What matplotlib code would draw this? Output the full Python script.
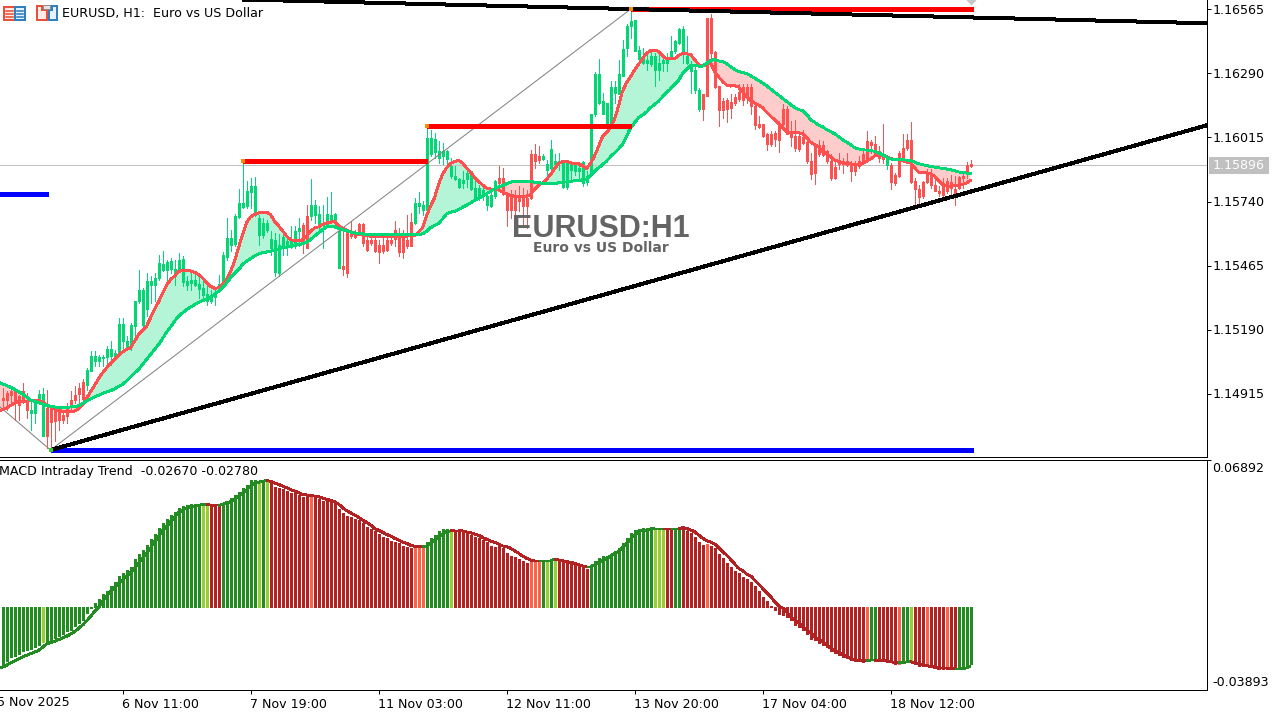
import numpy as np
import matplotlib
matplotlib.use("Agg")
import matplotlib.pyplot as plt
from matplotlib.patches import Rectangle, Polygon

# ---------- data (bar -1 is the one clipped at the left edge) ----------
body_high = [114903,
114896,114917,114925,114925,114903,114925,114889,114846,114882,114915,
114915,114853,114853,114853,114839,114824,114853,114889,114910,114939,
114963,115015,115078,115078,115072,115072,115107,115107,115089,115215,
115215,115139,115208,115313,115361,115361,115397,115400,115412,115476,
115473,115480,115483,115452,115490,115495,115400,115404,115404,115386,
115369,115343,115333,115350,115386,115508,115583,115583,115679,115734,
115734,115783,115808,115808,115669,115648,115648,115579,115576,115552,
115586,115569,115569,115615,115626,115641,115679,115727,115727,115688,
115648,115688,115684,115687,115612,115462,115612,115612,115605,115645,
115645,115576,115576,115576,115555,115555,115576,115576,115619,115598,
115598,115576,115652,115734,115734,115727,116013,116013,116009,115956,
115956,115956,115892,115851,115837,115834,115863,115870,115798,115798,
115791,115763,115770,115827,115841,115841,115770,115770,115770,115770,
115763,115755,115945,115942,115937,115937,115899,115966,115913,115916,
115906,115906,115899,115899,115884,115909,115849,116117,116286,116286,
116171,116164,116233,116233,116286,116396,116493,116515,116519,116389,
116365,116350,116367,116367,116333,116350,116353,116386,116429,116482,
116482,116365,116329,116303,116221,116200,116529,116529,116382,116238,
116171,116174,116168,116188,116210,116233,116233,116233,116150,116071,
116071,116028,116031,116035,116075,116138,116138,116035,116021,116021,
116018,115995,115913,115981,115981,115981,115956,115913,115889,115916,
115916,115916,115906,115906,115913,115942,116002,115996,115985,115956,
115931,115923,115896,115852,115949,115971,116006,116006,115827,115794,
115823,115860,115863,115809,115787,115820,115827,115823,115794,115845,
115849,115895,115899]
body_low = [114846,
114889,114886,114910,114875,114867,114889,114846,114832,114832,114882,
114734,114734,114791,114796,114803,114803,114817,114857,114889,114915,
114892,114953,115011,115054,115054,115069,115072,115075,115072,115089,
115139,115111,115118,115204,115311,115208,115276,115383,115380,115412,
115445,115445,115452,115419,115450,115394,115383,115390,115383,115366,
115340,115314,115311,115329,115366,115387,115502,115555,115559,115674,
115717,115720,115781,115684,115594,115594,115616,115541,115436,115433,
115548,115548,115543,115548,115612,115569,115541,115679,115684,115629,
115641,115641,115655,115662,115455,115448,115433,115591,115588,115609,
115562,115531,115562,115526,115522,115526,115533,115562,115579,115522,
115522,115548,115548,115648,115720,115705,115705,115942,115952,115927,
115935,115923,115849,115837,115801,115820,115837,115794,115755,115755,
115770,115723,115720,115763,115820,115774,115705,115705,115705,115741,
115720,115720,115755,115913,115917,115923,115874,115884,115903,115906,
115803,115803,115877,115870,115870,115820,115823,115856,116114,116164,
116114,116064,116078,116207,116204,116281,116400,116493,116386,116353,
116333,116333,116329,116303,116303,116333,116333,116362,116386,116422,
116372,116336,116300,116217,116138,116138,116193,116376,116233,116132,
116132,116138,116143,116164,116181,116174,116193,116150,116067,116061,
116021,115985,115985,116009,116006,116075,116032,116016,115968,115966,
115992,115913,115860,115863,115942,115938,115913,115842,115842,115903,
115899,115896,115870,115870,115892,115906,115928,115982,115942,115928,
115923,115896,115823,115820,115849,115923,115968,115823,115792,115759,
115763,115823,115809,115787,115777,115770,115784,115799,115770,115799,
115839,115863,115892]
wick_high = [114903,
114939,114925,114932,114932,114910,114960,114917,114889,114889,114932,
114939,114932,114860,114860,114860,114846,114875,114925,114946,114960,
114978,115025,115097,115097,115082,115082,115118,115142,115104,115240,
115240,115161,115218,115313,115447,115369,115433,115419,115433,115508,
115526,115490,115498,115490,115519,115505,115419,115440,115440,115426,
115404,115376,115361,115361,115426,115522,115669,115619,115688,115794,
115913,115827,115841,115844,115684,115669,115662,115612,115605,115602,
115619,115598,115634,115634,115669,115648,115727,115837,115748,115720,
115727,115760,115781,115691,115627,115612,115612,115655,115619,115648,
115648,115591,115598,115591,115576,115584,115584,115598,115655,115627,
115619,115684,115691,115755,115780,115741,116063,116049,116035,115999,
115992,115963,115927,115892,115841,115870,115870,115870,115827,115813,
115798,115777,115777,115834,115892,115884,115777,115791,115791,115806,
115798,115791,115963,115985,115977,115942,115920,116003,115942,115949,
115913,115906,115906,115906,115899,115913,115870,116117,116296,116353,
116207,116164,116257,116257,116350,116436,116501,116561,116522,116407,
116400,116372,116386,116379,116372,116372,116379,116453,116436,116486,
116493,116450,116343,116329,116228,116204,116529,116544,116386,116238,
116185,116185,116200,116200,116243,116243,116243,116243,116157,116107,
116071,116035,116042,116042,116085,116157,116150,116085,116090,116028,
116049,115999,115949,115985,116006,115999,115963,115946,115923,115949,
115928,115949,115913,115913,115935,115963,116045,116006,116021,115978,
116071,115928,115906,115863,115956,116028,116028,116082,115842,115813,
115827,115878,115878,115835,115806,115842,115842,115856,115849,115849,
115860,115909,115920]
wick_low = [114846,
114853,114846,114860,114803,114803,114875,114810,114760,114789,114875,
114731,114681,114681,114710,114760,114789,114789,114846,114875,114875,
114867,114932,115011,115032,115032,115032,115032,115039,115061,115075,
115104,115104,115104,115161,115304,115204,115247,115304,115311,115404,
115440,115404,115433,115380,115440,115376,115361,115361,115376,115326,
115321,115297,115304,115297,115354,115379,115490,115526,115548,115669,
115712,115712,115712,115679,115555,115583,115608,115512,115419,115419,
115512,115512,115540,115540,115548,115519,115541,115662,115648,115619,
115541,115634,115648,115634,115455,115426,115415,115584,115584,115605,
115548,115526,115555,115523,115476,115519,115526,115555,115548,115505,
115498,115541,115548,115645,115691,115684,115684,115935,115927,115906,
115899,115906,115841,115834,115798,115798,115803,115791,115748,115748,
115748,115702,115717,115755,115813,115770,115634,115670,115684,115698,
115634,115627,115751,115884,115906,115920,115856,115877,115892,115877,
115798,115794,115834,115856,115834,115806,115813,115849,116107,116161,
116114,116064,116071,116164,116200,116279,116365,116443,116386,116336,
116329,116307,116322,116236,116264,116300,116300,116357,116379,116415,
116336,116329,116207,116207,116128,116090,116193,116343,116228,116064,
116100,116081,116100,116153,116171,116153,116164,116114,116052,116057,
116018,115963,115978,115978,115952,116067,116028,115978,115956,115956,
115985,115906,115837,115817,115935,115935,115906,115832,115835,115878,
115863,115892,115827,115856,115885,115899,115921,115949,115935,115909,
115906,115878,115792,115813,115845,115921,115963,115820,115727,115731,
115756,115820,115799,115784,115763,115763,115777,115770,115727,115792,
115799,115842,115888]

ma_slow = [114963,
114956,114949,114942,114933,114923,114913,114900,114887,114882,114876,
114870,114864,114860,114857,114856,114856,114856,114857,114859,114862,
114872,114882,114892,114900,114907,114915,114922,114927,114935,114945,
114953,114969,114986,115003,115018,115039,115061,115082,115104,115125,
115151,115178,115201,115225,115247,115261,115276,115286,115297,115307,
115314,115319,115329,115340,115354,115369,115390,115412,115430,115447,
115469,115483,115495,115505,115515,115520,115523,115526,115530,115536,
115541,115543,115548,115551,115555,115558,115565,115576,115591,115605,
115619,115631,115634,115631,115625,115619,115614,115609,115605,115602,
115601,115598,115598,115598,115598,115598,115598,115598,115598,115598,
115598,115598,115598,115598,115598,115601,115612,115627,115637,115645,
115665,115687,115694,115698,115705,115715,115724,115734,115744,115753,
115763,115773,115784,115794,115803,115808,115816,115823,115827,115827,
115827,115827,115826,115823,115821,115818,115817,115817,115818,115820,
115823,115824,115827,115829,115830,115833,115837,115851,115870,115884,
115899,115913,115932,115949,115966,115985,116020,116056,116078,116100,
116111,116125,116143,116157,116171,116190,116207,116224,116243,116260,
116290,116307,116324,116324,116322,116322,116333,116346,116350,116344,
116342,116332,116320,116307,116299,116294,116290,116281,116270,116260,
116250,116238,116224,116210,116197,116183,116170,116157,116144,116135,
116130,116115,116092,116081,116069,116061,116049,116041,116031,116019,
116006,115995,115984,115972,115966,115962,115961,115959,115956,115949,
115941,115932,115923,115919,115919,115919,115918,115915,115909,115903,
115898,115895,115890,115888,115885,115882,115880,115876,115872,115867,
115865,115862,115860]
ma_fast = [114840,
114846,114853,114863,114875,114880,114882,114882,114885,114886,114885,
114879,114864,114857,114850,114843,114839,114839,114839,114839,114849,
114867,114893,114922,114949,114978,115003,115025,115044,115061,115079,
115094,115104,115111,115139,115168,115185,115204,115240,115276,115308,
115344,115380,115404,115419,115440,115443,115443,115442,115436,115427,
115412,115393,115376,115367,115369,115383,115404,115440,115483,115541,
115598,115648,115674,115685,115691,115694,115694,115684,115655,115636,
115615,115591,115576,115572,115571,115576,115591,115612,115626,115631,
115641,115648,115651,115654,115637,115625,115617,115609,115602,115598,
115598,115594,115591,115591,115591,115591,115591,115588,115588,115588,
115591,115591,115594,115594,115608,115627,115677,115720,115755,115813,
115856,115884,115903,115912,115917,115906,115884,115866,115844,115827,
115811,115798,115794,115791,115791,115780,115773,115767,115763,115763,
115763,115763,115770,115791,115810,115820,115834,115856,115880,115903,
115912,115913,115906,115903,115902,115894,115882,115903,115935,115977,
116018,116035,116057,116092,116150,116214,116250,116276,116304,116329,
116354,116376,116389,116389,116386,116367,116353,116353,116353,116367,
116375,116375,116372,116350,116329,116322,116329,116336,116300,116276,
116257,116240,116236,116238,116233,116210,116190,116175,116164,116155,
116143,116124,116107,116092,116074,116057,116039,116035,116035,116035,
116032,116014,115996,115985,115975,115956,115946,115931,115918,115913,
115906,115903,115902,115900,115899,115902,115913,115923,115935,115938,
115935,115932,115925,115920,115920,115916,115909,115906,115885,115867,
115863,115863,115859,115849,115830,115813,115806,115806,115809,115809,
115813,115820,115830]

macd_hist_e4 = [-286,
-266,-255,-235,-229,-219,-209,-204,-198,-188,-177,
-166,-159,-154,-146,-135,-128,-115,-107,-92,-76,
-61,-30,-6,17,36,61,76,98,118,142,
157,173,188,224,247,266,289,317,341,367,
391,409,429,445,461,471,478,481,481,479,
476,476,473,471,471,476,496,507,523,538,
554,569,593,593,585,590,590,577,562,554,
549,543,534,531,523,515,512,512,507,503,
496,496,492,484,456,437,425,419,409,406,
391,375,363,356,341,328,321,310,305,297,
285,279,274,279,279,279,305,321,336,355,
363,363,363,356,352,347,341,336,325,321,
313,305,285,282,285,274,251,238,235,224,
212,204,212,212,212,216,212,216,216,216,
212,207,207,204,196,185,179,185,212,227,
238,238,247,261,274,297,321,344,359,364,
367,369,372,367,364,364,366,366,366,366,
367,356,347,328,305,289,294,285,274,247,
227,207,185,168,157,138,129,114,98,72,
48,25,5,-17,-33,-37,-48,-64,-84,-96,
-110,-126,-149,-157,-170,-177,-188,-209,-216,-224,
-235,-240,-251,-254,-255,-260,-255,-247,-247,-251,
-252,-255,-258,-268,-266,-263,-260,-255,-266,-279,
-279,-275,-282,-286,-291,-291,-291,-291,-291,-291,
-286,-282,-267]
macd_signal_e4 = [-286,
-282,-274,-263,-254,-244,-235,-227,-219,-212,-204,
-190,-174,-168,-162,-154,-146,-138,-128,-117,-101,
-86,-67,-45,-22,-3,25,48,72,92,110,
126,142,160,180,204,227,251,274,305,328,
356,375,398,419,440,453,461,468,471,475,
478,479,476,475,475,478,487,492,503,515,
531,546,565,577,583,587,590,588,580,573,
565,557,549,541,535,526,523,521,518,515,
509,503,499,492,481,464,450,440,429,419,
406,395,383,367,358,349,339,331,321,313,
303,297,288,283,282,280,285,297,313,328,
341,352,355,356,356,355,350,347,341,335,
325,316,308,302,294,285,282,274,263,251,
238,227,219,216,216,216,216,216,223,219,
215,212,207,204,198,191,188,188,196,207,
219,226,238,251,258,279,297,316,336,352,
356,359,363,366,366,366,366,366,366,366,
370,367,359,352,336,321,310,303,294,279,
258,243,223,201,180,170,154,145,126,107,
87,68,48,25,5,-6,-22,-45,-61,-76,
-92,-107,-123,-138,-154,-162,-177,-193,-204,-213,
-224,-232,-243,-247,-251,-252,-251,-249,-249,-251,
-252,-254,-257,-260,-261,-260,-258,-257,-263,-268,
-271,-275,-279,-283,-288,-288,-288,-289,-291,-291,
-289,-286,-278]

# inclusive bar spans where the candles carry the bull colour
candle_bull_spans = [(7, 10), (21, 74), (77, 84), (103, 123), (135, 174), (221, 221)]
# inclusive bar spans of the histogram colours; the remaining bars are "R"
hist_spans = [("G", -1, 9), ("Y", 10, 10), ("G", 11, 49), ("Y", 50, 51), ("G", 55, 63), ("Y", 64, 64),
              ("G", 65, 65), ("Y", 66, 66), ("T", 77, 77), ("T", 103, 105), ("G", 106, 111), ("Y", 112, 112),
              ("T", 132, 134), ("G", 135, 135), ("Y", 136, 136), ("G", 137, 137), ("Y", 138, 138),
              ("G", 147, 162), ("Y", 163, 165), ("G", 168, 169), ("T", 176, 176), ("T", 216, 216),
              ("G", 217, 218), ("T", 224, 224), ("G", 225, 226), ("Y", 227, 227), ("T", 231, 231),
              ("T", 236, 236), ("G", 239, 242)]

# levels: (first bar, last bar, price)
red_levels = [(60, 106, 1.15916), (106, 157, 1.16065), (157, 242.5, 1.16566)]
blue_levels = [(-2, 11.25, 1.15772), (12, 242.5, 1.14672)]
pivot_bars = [60, 106, 157]
pivot_prices = [1.15916, 1.16065, 1.16566]
low_pivot = (12, 1.14672)
# trend lines and zigzag: (bars, prices)
lower_trend = ([12, 301], [1.14672, 1.16067])
upper_trend = ([60, 301], [1.16608, 1.16506])
zigzag = ([-1, 12, 157], [1.14863, 1.14672, 1.16566])

y_ticks = [1.16565, 1.16290, 1.16015, 1.15740, 1.15465, 1.15190, 1.14915]
last_price = 1.15896
macd_max, macd_min = 0.06892, -0.03893
date_bars = [30, 62, 94, 126, 158, 190, 222]
date_labels = ["6 Nov 11:00", "7 Nov 19:00", "11 Nov 03:00", "12 Nov 11:00",
               "13 Nov 20:00", "17 Nov 04:00", "18 Nov 12:00"]
first_date_label = "5 Nov 2025"
title_text = "EURUSD, H1:  Euro vs US Dollar"
macd_text = "MACD Intraday Trend  -0.02670 -0.02780"

# ---------- drawing ----------
W, H = 1282, 715
GREEN, RED = "#00D775", "#FF5050"
FILL_G, FILL_R = "#B3F5D6", "#FFCCCC"
HCOL = {"G": "#228B22", "Y": "#9ACD32", "R": "#B22222", "T": "#FF6347"}
FS = 9.05
PX = 0.72  # one pixel in points at dpi 100
plt.rcParams["font.family"] = ["DejaVu Sans"]

fig = plt.figure(figsize=(W / 100, H / 100), dpi=100, facecolor="white")
right = 1207
ax = fig.add_axes([0, 1 - 457 / H, right / W, 457 / H])
sub = fig.add_axes([0, 1 - 690 / H, right / W, 230.5 / H])
over = fig.add_axes([0, 0, 1, 1], zorder=20)
over.set_xlim(0, W); over.set_ylim(H, 0); over.axis("off"); over.patch.set_alpha(0)

xlim = (-0.625, 301.125)
k = 0.00275 / 64
n = len(body_high)
x = np.arange(-1, n - 1)
to_price = lambda a: np.asarray(a, dtype=float) / 1e5

ax.set_xlim(*xlim)
ax.set_ylim(1.16565 - 447.5 * k, 1.16565 + 9.5 * k)
bh, bl, wh, wl = map(to_price, (body_high, body_low, wick_high, wick_low))
fast, slow = to_price(ma_fast), to_price(ma_slow)

ax.fill_between(x, fast, slow, where=fast >= slow, interpolate=True, color=FILL_G, lw=0, zorder=1)
ax.fill_between(x, fast, slow, where=fast <= slow, interpolate=True, color=FILL_R, lw=0, zorder=1)
ax.axhline(last_price, color="#C0C0C0", lw=PX, zorder=1.5, antialiased=False)

colors = np.array([RED] * n, dtype=object)
for a, b in candle_bull_spans:
    colors[(x >= a) & (x <= b)] = GREEN
ax.vlines(x, wl, wh, colors=list(colors), lw=PX, zorder=2, antialiased=False)
ax.vlines(x, bl, bh, colors=list(colors), lw=3 * PX, zorder=2.5, antialiased=False, capstyle="butt")

ax.plot(zigzag[0], zigzag[1], color="#808080", lw=PX, zorder=3)
ax.plot(x, fast, color=RED, lw=1.9 * PX, zorder=4, antialiased=False)
ax.plot(x, slow, color=GREEN, lw=1.9 * PX, zorder=4.5, antialiased=False)
for a, b, p in red_levels:
    ax.hlines(p, a, b, colors="#FF0000", lw=5 * PX, zorder=5, antialiased=False)
for a, b, p in blue_levels:
    ax.hlines(p, a, b, colors="#0000FF", lw=5 * PX, zorder=5, antialiased=False)
for tr in (lower_trend, upper_trend):
    ax.plot(tr[0], tr[1], color="black", lw=3 * PX, zorder=6, solid_capstyle="butt", antialiased=False)
ax.scatter(pivot_bars, pivot_prices, marker="s", s=(5 * PX) ** 2, color="#FF8C00", lw=0, zorder=7)
ax.scatter([low_pivot[0]], [low_pivot[1]], marker="s", s=(5 * PX) ** 2, color="#32CD32", lw=0, zorder=7)
ax.scatter([242], [1.16606], marker="D", s=(7 * PX) ** 2, color="#C8C8C8", lw=0, zorder=7)

ax.yaxis.tick_right()
ax.set_yticks(y_ticks)
ax.set_yticklabels([f"{v:.5f}" for v in y_ticks], fontsize=FS)
ax.tick_params(axis="y", length=4 * PX, width=PX, pad=1.5 * PX)
ax.set_xticks([])
for s in ("top", "left"):
    ax.spines[s].set_visible(False)
for s in ("right", "bottom"):
    ax.spines[s].set_linewidth(PX)

# MACD pane
sub.set_xlim(*xlim)
sub.set_ylim(macd_min, macd_max)
hist = np.asarray(macd_hist_e4) / 1e4
sig = np.asarray(macd_signal_e4) / 1e4
hc = np.array(["R"] * n, dtype=object)
for c, a, b in hist_spans:
    hc[(x >= a) & (x <= b)] = c
sub.vlines(x, 0, hist, colors=[HCOL[c] for c in hc], lw=3 * PX, zorder=2, antialiased=False, capstyle="butt")
for i in range(n - 1):
    col = HCOL["G"] if hc[i + 1] in ("G", "Y") else HCOL["R"]
    sub.plot(x[i:i + 2], sig[i:i + 2], color=col, lw=1.9 * PX, zorder=3, solid_capstyle="butt", antialiased=False)
sub.yaxis.tick_right()
sub.set_yticks([macd_max])
sub.set_yticklabels([""])
sub.tick_params(axis="y", length=4 * PX, width=PX)
sub.set_xticks(date_bars)
sub.set_xticklabels(date_labels, fontsize=FS, ha="left")
sub.tick_params(axis="x", length=4 * PX, width=PX, pad=4 * PX)
for lab in sub.get_xticklabels():
    lab.set_x(lab.get_position()[0])
sub.spines["left"].set_visible(False)
for s in ("top", "right", "bottom"):
    sub.spines[s].set_linewidth(PX)

# texts and decorations placed in pixels
over.text(-3, 703, first_date_label, fontsize=FS, va="center", ha="left", clip_on=False)
over.text(1212, 468, f"{macd_max:.5f}", fontsize=FS, va="center")
over.text(1212, 682, f"{macd_min:.5f}", fontsize=FS, va="center")
over.add_patch(Rectangle((1209, 157), 60, 17, color="#C0C0C0", lw=0))
over.text(1213, 165.5, f"{last_price:.5f}", fontsize=FS, color="white", va="center")
over.text(62, 13, title_text, fontsize=FS, va="center")
over.text(-1, 472, macd_text, fontsize=FS, va="center", clip_on=False)
over.text(601, 229, "EURUSD:H1", fontsize=22, fontweight="bold", family="Liberation Sans",
          color="#646464", ha="center", va="center")
over.text(601, 247.5, "Euro vs US Dollar", fontsize=10, fontweight="bold", family="DejaVu Sans",
          color="#646464", ha="center", va="center")

# toolbar icons
over.add_patch(Rectangle((4, 7), 11, 13, fc="#FDECE8", ec="#E8503A", lw=2 * PX))
over.add_patch(Rectangle((15, 7), 10, 13, fc="#E6F2FB", ec="#2E80C0", lw=2 * PX))
for yy in (10.5, 13.5, 16.5):
    over.plot([6, 13], [yy, yy], color="#E8503A", lw=PX * 1.6)
    over.plot([17, 23], [yy, yy], color="#2E80C0", lw=PX * 1.6)
over.add_patch(Polygon([(37, 6), (42, 6), (42, 10), (47, 10), (47, 20), (37, 20)],
                       fc="#FDECE8", ec="#E8503A", lw=2 * PX))
over.add_patch(Polygon([(49, 10), (52, 10), (52, 6), (57, 6), (57, 20), (49, 20)],
                       fc="#E6F2FB", ec="#2E80C0", lw=2 * PX))
over.add_patch(Rectangle((43, 4.5), 7, 4, fc="#E4E4E4", ec="#8C8C8C", lw=PX))

fig.savefig("out.png", dpi=100)
